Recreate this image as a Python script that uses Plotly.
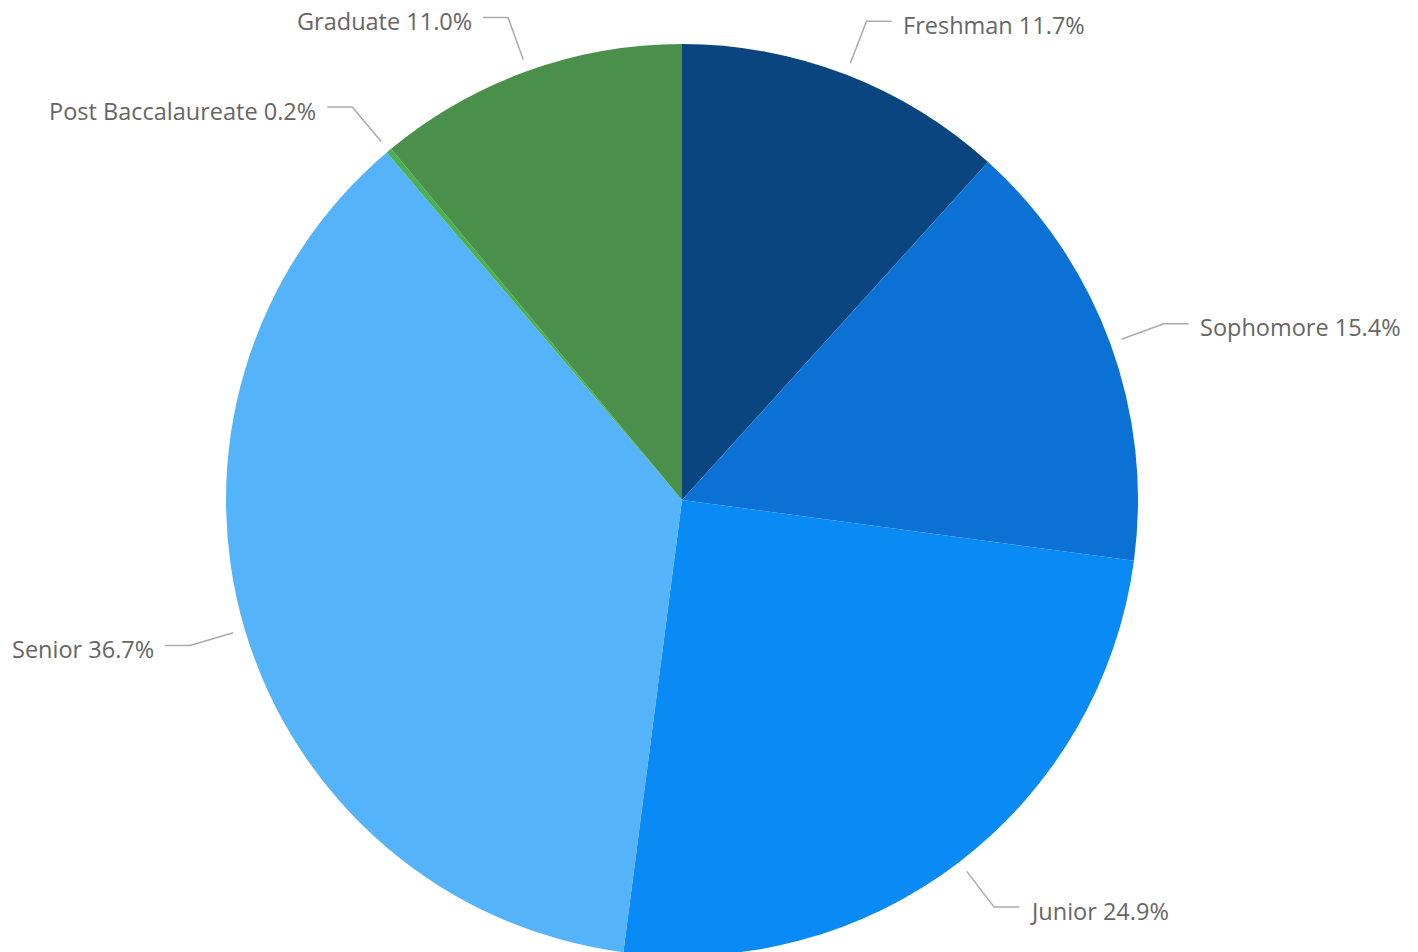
import math
import plotly.graph_objects as go

labels = ["Freshman", "Sophomore", "Junior", "Senior", "Post Baccalaureate", "Graduate"]
values = [11.7, 15.4, 24.9, 36.7, 0.2, 11.0]
colors = ["#0A4580", "#0B71D5", "#0A8AF5", "#54B3F9", "#4CAF50", "#4A8F4A"]

W, H = 1418, 952
OFF = 8  # browser body margin
cx, cy, R = 682 - OFF, 500 - OFF, 456

fig = go.Figure(go.Pie(
    labels=labels, values=values, sort=False, direction="clockwise", rotation=0,
    marker=dict(colors=colors, line=dict(width=0)),
    textinfo="none", hoverinfo="label+percent", showlegend=False,
    domain=dict(x=[(cx - R) / W, (cx + R) / W], y=[1 - (cy + R) / H, 1 - (cy - R) / H]),
))

total = sum(values)
shapes, annotations = [], []
cum = 0.0
px = lambda x: x / W
py = lambda y: 1 - y / H
for lab, v in zip(labels, values):
    mid = (cum + v / 2) / total * 2 * math.pi
    cum += v
    s, c = math.sin(mid), math.cos(mid)
    x0, y0 = cx + (R + 12) * s, cy - (R + 12) * c
    x1, y1 = cx + (R + 57) * s, cy - (R + 57) * c
    side = 1 if s >= 0 else -1
    x2 = x1 + side * 25
    shapes.append(dict(type="path", xref="paper", yref="paper",
                       path=f"M {px(x0)} {py(y0)} L {px(x1)} {py(y1)} L {px(x2)} {py(y1)}",
                       line=dict(color="#AAAAAA", width=1.5)))
    pct = v / total * 100
    annotations.append(dict(xref="paper", yref="paper", x=px(x2 + side * 9), y=py(y1 + 3.5),
                            text=f"{lab} {pct:.1f}%", showarrow=False,
                            xanchor="left" if side > 0 else "right", yanchor="middle",
                            font=dict(family="Open Sans", size=23.5, color="#666666")))

fig.update_layout(width=W, height=H, margin=dict(l=0, r=0, t=0, b=0),
                  paper_bgcolor="white", plot_bgcolor="white",
                  shapes=shapes, annotations=annotations)
fig.write_html("out.html")
